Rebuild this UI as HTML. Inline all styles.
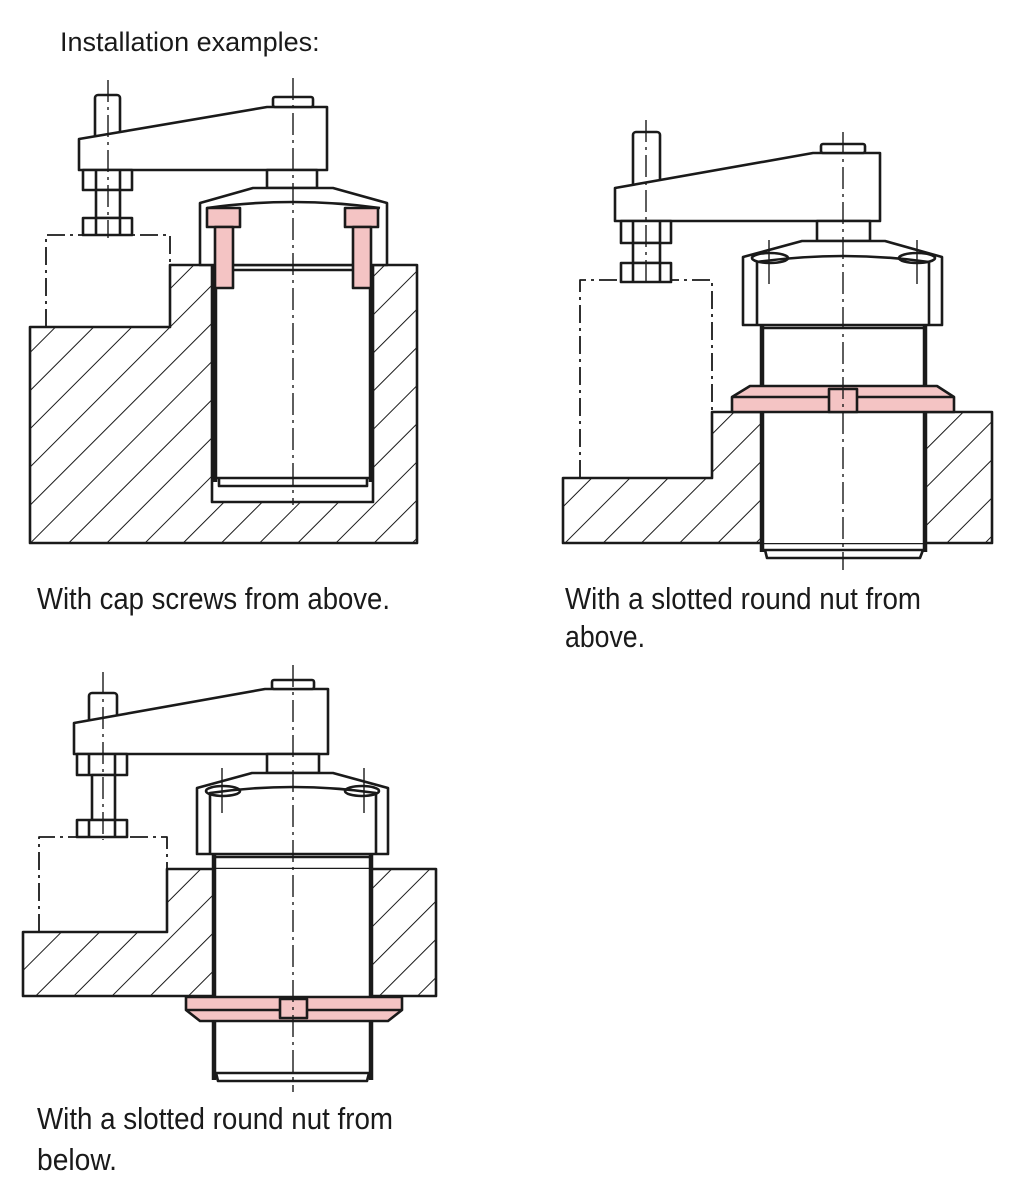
<!DOCTYPE html>
<html><head><meta charset="utf-8"><style>
html,body{margin:0;padding:0;background:#fff;}
svg{display:block;}
text{font-family:"Liberation Sans Narrow","Liberation Sans",sans-serif;fill:#1a1a1a;}
</style></head><body>
<svg width="1014" height="1200" viewBox="0 0 1014 1200" xmlns="http://www.w3.org/2000/svg">
<defs>
<pattern id="h" width="27" height="27" patternUnits="userSpaceOnUse" patternTransform="rotate(45)">
<line x1="0" y1="0" x2="0" y2="27" stroke="#1a1a1a" stroke-width="2"/>
</pattern>
</defs>
<text x="60" y="51" font-size="27">Installation examples:</text>
<text x="37" y="609" font-size="31" textLength="353" lengthAdjust="spacingAndGlyphs">With cap screws from above.</text>
<text x="565" y="609" font-size="31" textLength="356" lengthAdjust="spacingAndGlyphs">With a slotted round nut from</text>
<text x="565" y="647" font-size="31" textLength="80" lengthAdjust="spacingAndGlyphs">above.</text>
<text x="37" y="1129" font-size="31" textLength="356" lengthAdjust="spacingAndGlyphs">With a slotted round nut from</text>
<text x="37" y="1170" font-size="31" textLength="80" lengthAdjust="spacingAndGlyphs">below.</text>

<g fill="none" stroke="#1a1a1a" stroke-width="2.6" stroke-linejoin="round">
<!-- ===== Diagram 1 ===== -->
<polygon points="30,327 170,327 170,265 417,265 417,543 30,543" fill="url(#h)"/>
<rect x="212" y="265" width="161" height="237" fill="#fff"/>
<polyline points="46,327 46,235 170,235 170,327" stroke-dasharray="18 5 3 5" stroke-width="1.8"/>
<rect x="95" y="95" width="25" height="50" rx="3" fill="#fff"/>
<polygon points="79,139 267,107 327,107 327,170 79,170" fill="#fff"/>
<rect x="273" y="97" width="40" height="10" rx="2" fill="#fff"/>
<rect x="267" y="170" width="50" height="18" fill="#fff"/>
<polygon points="200,265 200,203 253,188 333,188 387,203 387,265" fill="#fff"/>
<path d="M207,208 Q293,196 380,208"/>
<rect x="83" y="170" width="49" height="20" fill="#fff"/><line x1="96" y1="170" x2="96" y2="190"/><line x1="120" y1="170" x2="120" y2="190"/>
<rect x="96" y="190" width="24" height="28" fill="#fff"/>
<rect x="83" y="218" width="49" height="17" fill="#fff"/><line x1="96" y1="218" x2="96" y2="235"/><line x1="120" y1="218" x2="120" y2="235"/>
<line x1="215" y1="265" x2="215" y2="482" stroke-width="4.5"/>
<line x1="371" y1="265" x2="371" y2="482" stroke-width="4.5"/>
<line x1="215" y1="270" x2="371" y2="270"/>
<line x1="215" y1="478" x2="371" y2="478"/>
<path d="M219,478 L219,486 L367,486 L367,478"/>
<rect x="207" y="208" width="33" height="19" fill="#f4c4c4"/>
<rect x="215" y="227" width="18" height="61" fill="#f4c4c4"/>
<rect x="345" y="208" width="33" height="19" fill="#f4c4c4"/>
<rect x="353" y="227" width="18" height="61" fill="#f4c4c4"/>
<g stroke-width="1.4" stroke-dasharray="22 5 3 5"><line x1="293" y1="78" x2="293" y2="505"/><line x1="108" y1="80" x2="108" y2="238"/></g>

<!-- ===== Diagram 2 ===== -->
<polygon points="563,478 712,478 712,412 992,412 992,543 563,543" fill="url(#h)"/>
<rect x="762" y="412" width="163" height="131" fill="#fff" stroke="none"/>
<polyline points="580,478 580,280 712,280 712,478" stroke-dasharray="18 5 3 5" stroke-width="1.8"/>
<rect x="633" y="132" width="27" height="60" rx="3" fill="#fff"/>
<polygon points="615,188 813,153 880,153 880,221 615,221" fill="#fff"/>
<rect x="821" y="144" width="44" height="9" rx="2" fill="#fff"/>
<rect x="817" y="221" width="53" height="20" fill="#fff"/>
<polygon points="743,325 743,257 802,241 885,241 942,257 942,325" fill="#fff"/>
<path d="M757,325 L757,262 Q843,250 929,262 L929,325"/>
<ellipse cx="770" cy="258" rx="18" ry="5"/><ellipse cx="917" cy="258" rx="18" ry="5"/>
<line x1="769" y1="240" x2="769" y2="284" stroke-width="1.4"/><line x1="917" y1="240" x2="917" y2="284" stroke-width="1.4"/>
<rect x="621" y="221" width="50" height="22" fill="#fff"/><line x1="633" y1="221" x2="633" y2="243"/><line x1="660" y1="221" x2="660" y2="243"/>
<rect x="633" y="243" width="27" height="20" fill="#fff"/>
<rect x="621" y="263" width="50" height="19" fill="#fff"/><line x1="633" y1="263" x2="633" y2="282"/><line x1="660" y1="263" x2="660" y2="282"/>
<line x1="762" y1="325" x2="762" y2="552" stroke-width="4.5"/>
<line x1="925" y1="325" x2="925" y2="552" stroke-width="4.5"/>
<line x1="762" y1="328" x2="925" y2="328"/>
<line x1="762" y1="550" x2="925" y2="550"/>
<path d="M765,550 L767,558 L920,558 L923,550"/>
<polygon points="750,386 937,386 954,397 954,412 732,412 732,397" fill="#f4c4c4"/>
<line x1="732" y1="397" x2="954" y2="397"/>
<rect x="829" y="389" width="28" height="23" fill="#f4c4c4"/>
<g stroke-width="1.4" stroke-dasharray="22 5 3 5"><line x1="843" y1="132" x2="843" y2="570"/><line x1="646" y1="120" x2="646" y2="284"/></g>

<!-- ===== Diagram 3 ===== -->
<polygon points="23,932 167,932 167,869 436,869 436,996 23,996" fill="url(#h)"/>
<rect x="212" y="869" width="161" height="127" fill="#fff" stroke="none"/>
<polyline points="39,932 39,837 167,837 167,932" stroke-dasharray="18 5 3 5" stroke-width="1.8"/>
<rect x="89" y="693" width="28" height="36" rx="3" fill="#fff"/>
<polygon points="74,723 265,689 328,689 328,754 74,754" fill="#fff"/>
<rect x="272" y="680" width="42" height="9" rx="2" fill="#fff"/>
<rect x="267" y="754" width="52" height="19" fill="#fff"/>
<polygon points="197,854 197,788 252,773 333,773 388,788 388,854" fill="#fff"/>
<path d="M210,854 L210,793 Q293,781 376,793 L376,854"/>
<ellipse cx="223" cy="791" rx="17" ry="5"/><ellipse cx="362" cy="791" rx="17" ry="5"/>
<line x1="222" y1="768" x2="222" y2="813" stroke-width="1.4"/><line x1="364" y1="768" x2="364" y2="813" stroke-width="1.4"/>
<rect x="77" y="754" width="50" height="21" fill="#fff"/><line x1="89" y1="754" x2="89" y2="775"/><line x1="115" y1="754" x2="115" y2="775"/>
<rect x="92" y="775" width="23" height="45" fill="#fff"/>
<rect x="77" y="820" width="50" height="17" fill="#fff"/><line x1="89" y1="820" x2="89" y2="837"/><line x1="115" y1="820" x2="115" y2="837"/>
<line x1="214" y1="854" x2="214" y2="1080" stroke-width="4.5"/>
<line x1="371" y1="854" x2="371" y2="1080" stroke-width="4.5"/>
<line x1="214" y1="857" x2="371" y2="857"/>
<line x1="214" y1="1073" x2="371" y2="1073"/>
<path d="M216,1073 L218,1081 L367,1081 L369,1073"/>
<polygon points="186,997 402,997 402,1010 388,1021 200,1021 186,1010" fill="#f4c4c4"/>
<line x1="186" y1="1010" x2="402" y2="1010"/>
<rect x="280" y="999" width="27" height="19" fill="#f4c4c4"/>
<g stroke-width="1.4" stroke-dasharray="22 5 3 5"><line x1="293" y1="665" x2="293" y2="1092"/><line x1="103" y1="672" x2="103" y2="840"/></g>
</g>
</svg>
</body></html>
